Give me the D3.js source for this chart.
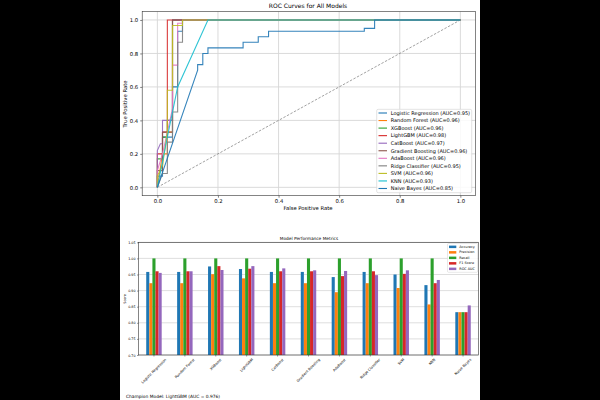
<!DOCTYPE html>
<html>
<head>
<meta charset="utf-8">
<script src="https://cdn.jsdelivr.net/npm/d3@7"></script>
<style>
  body { margin: 0; background: #000; }
  svg { display: block; }
  text { font-family: "DejaVu Sans", sans-serif; fill: #000; }
</style>
</head>
<body>
<svg id="canvas" width="600" height="400"></svg>
<script>
// ---- data ----
const models = ["Logistic Regression", "Random Forest", "XGBoost", "LightGBM", "CatBoost",
  "Gradient Boosting", "AdaBoost", "Ridge Classifier", "SVM", "KNN", "Naive Bayes"];
const aucLabels = ["0.95", "0.96", "0.96", "0.98", "0.97", "0.96", "0.96", "0.95", "0.96", "0.93", "0.85"];
const rocColors = ["#1f77b4", "#ff7f0e", "#2ca02c", "#d62728", "#9467bd", "#8c564b",
  "#e377c2", "#7f7f7f", "#bcbd22", "#17becf", "#1f77b4"];

// [fpr, tpr] points
const rocLR = [[0,0],[0,0.067],[0.017,0.067],[0.017,0.3],[0.05,0.3],[0.05,0.6],[0.067,0.6],[0.067,0.933],[0.083,0.933],[0.083,1],[1,1]];
const rocRF = [[0,0],[0.017,0.2],[0.033,0.2],[0.033,0.33],[0.05,0.33],[0.05,1],[1,1]];
const rocXGB = [[0,0],[0,0.17],[0.017,0.17],[0.017,0.3],[0.033,0.3],[0.033,0.4],[0.05,0.4],[0.05,1],[1,1]];
const rocLGBM = [[0,0],[0,0.2],[0.017,0.2],[0.017,0.33],[0.033,0.33],[0.033,1],[0.083,1],[1,1]];
const rocCat = [[0,0],[0,0.22],[0.01,0.26],[0.017,0.26],[0.017,0.4],[0.05,0.4],[0.05,1],[1,1]];
const rocGB = [[0,0],[0,0.1],[0.017,0.1],[0.017,0.33],[0.05,0.33],[0.05,1],[1,1]];
const rocAda = [[0,0],[0,0.1],[0.017,0.2],[0.033,0.33],[0.05,0.47],[0.05,0.52],[0.05,0.73],[0.067,0.73],[0.067,0.98],[0.083,0.98],[0.083,1],[1,1]];
const rocRidge = [[0,0],[0.017,0.083],[0.033,0.083],[0.033,0.27],[0.05,0.27],[0.05,0.45],[0.067,0.45],[0.067,0.867],[0.083,0.867],[0.083,1],[1,1]];
const rocSVM = [[0,0],[0,0.067],[0.017,0.13],[0.033,0.33],[0.033,0.58],[0.05,0.58],[0.05,0.967],[0.083,0.967],[0.083,1],[1,1]];
const rocKNN = [[0,0],[0.033,0.3],[0.067,0.6],[0.167,1],[1,1]];
const rocNB = [[0,0],[0.133,0.7],[0.133,0.733],[0.15,0.733],[0.15,0.8],[0.167,0.8],[0.167,0.833],[0.283,0.833],[0.283,0.867],[0.333,0.867],[0.333,0.9],[0.367,0.9],[0.367,0.933],[0.683,0.933],[0.683,0.95],[0.717,0.95],[0.717,1],[1,1]];
const rocCurves = [rocLR, rocRF, rocXGB, rocLGBM, rocCat, rocGB, rocAda, rocRidge, rocSVM, rocKNN, rocNB];

const rocTicks = [0, 0.2, 0.4, 0.6, 0.8, 1.0];

const metricNames = ["Accuracy", "Precision", "Recall", "F1 Score", "ROC AUC"];
const metricColors = ["#1f77b4", "#ff7f0e", "#2ca02c", "#d62728", "#9467bd"];
const accuracy = [0.958, 0.958, 0.975, 0.967, 0.958, 0.958, 0.942, 0.958, 0.950, 0.917, 0.833];
const precision = [0.923, 0.923, 0.951, 0.938, 0.923, 0.923, 0.895, 0.923, 0.908, 0.857, 0.833];
const recall = [1, 1, 1, 1, 1, 1, 1, 1, 1, 1, 0.833];
const f1Score = [0.960, 0.960, 0.976, 0.968, 0.960, 0.960, 0.945, 0.960, 0.952, 0.923, 0.833];
const rocAuc = [0.955, 0.960, 0.964, 0.976, 0.969, 0.963, 0.961, 0.948, 0.963, 0.933, 0.854];
const metricValues = [accuracy, precision, recall, f1Score, rocAuc];
const scoreTicks = [0.70, 0.75, 0.80, 0.85, 0.90, 0.95, 1.00, 1.05];

const footer = "Champion Model: LightGBM (AUC = 0.976)";

// ---- page ----
let canvas = d3.select("#canvas");
canvas.append("rect").attr("width", 600).attr("height", 400).attr("fill", "#000");
canvas.append("rect").attr("x", 120).attr("width", 360).attr("height", 400).attr("fill", "#fff");

// ---- ROC chart ----
const rx = d3.scaleLinear().domain([-0.05, 1.05]).range([142.2, 475.5]);
const ry = d3.scaleLinear().domain([-0.05, 1.05]).range([195.7, 11.6]);
let roc = canvas.append("g");

// grid
roc.selectAll(".gx").data(rocTicks).enter().append("line")
  .attr("x1", d => rx(d)).attr("x2", d => rx(d))
  .attr("y1", ry.range()[0]).attr("y2", ry.range()[1])
  .attr("stroke", "#d6d6d6").attr("stroke-width", 0.9);
roc.selectAll(".gy").data(rocTicks).enter().append("line")
  .attr("y1", d => ry(d)).attr("y2", d => ry(d))
  .attr("x1", rx.range()[0]).attr("x2", rx.range()[1])
  .attr("stroke", "#d6d6d6").attr("stroke-width", 0.9);

// diagonal
roc.append("line")
  .attr("x1", rx(0)).attr("y1", ry(0)).attr("x2", rx(1)).attr("y2", ry(1))
  .attr("stroke", "#7a7a7a").attr("stroke-width", 0.7).attr("stroke-dasharray", "2.5,1.5");

const line = d3.line().x(d => rx(d[0])).y(d => ry(d[1]));
roc.selectAll(".curve").data(rocCurves).enter().append("path")
  .attr("d", line)
  .attr("fill", "none")
  .attr("stroke", (d, i) => rocColors[i])
  .attr("stroke-width", 1.1)
  .attr("opacity", 0.9);

// frame + axes
roc.append("rect")
  .attr("x", rx.range()[0]).attr("y", ry.range()[1])
  .attr("width", rx.range()[1] - rx.range()[0]).attr("height", ry.range()[0] - ry.range()[1])
  .attr("fill", "none").attr("stroke", "#333").attr("stroke-width", 0.6);

let rxAxis = roc.append("g").attr("transform", `translate(0,${ry.range()[0]})`)
  .call(d3.axisBottom(rx).tickValues(rocTicks).tickFormat(d3.format(".1f")).tickSize(2).tickPadding(2));
let ryAxis = roc.append("g").attr("transform", `translate(${rx.range()[0]},0)`)
  .call(d3.axisLeft(ry).tickValues(rocTicks).tickFormat(d3.format(".1f")).tickSize(2).tickPadding(2));
[rxAxis, ryAxis].forEach(a => {
  a.select(".domain").remove();
  a.selectAll("line").attr("stroke", "#333").attr("stroke-width", 0.6);
  a.selectAll("text").attr("font-size", 5.3).attr("font-family", "DejaVu Sans").attr("fill", "#000");
});

roc.append("text").attr("x", 308).attr("y", 8).attr("text-anchor", "middle")
  .attr("font-size", 6).text("ROC Curves for All Models");
roc.append("text").attr("x", 308).attr("y", 210).attr("text-anchor", "middle")
  .attr("font-size", 5.3).text("False Positive Rate");
roc.append("text").attr("transform", "translate(127,104) rotate(-90)").attr("text-anchor", "middle")
  .attr("font-size", 5.3).text("True Positive Rate");

// legend
let leg = roc.append("g");
leg.append("rect").attr("x", 376.7).attr("y", 109.3).attr("width", 95).attr("height", 83.4)
  .attr("rx", 1.5).attr("fill", "#fff").attr("fill-opacity", 0.85)
  .attr("stroke", "#d0d0d0").attr("stroke-width", 0.6);
models.forEach((m, i) => {
  const y = 113 + i * 7.55;
  leg.append("line").attr("x1", 378.5).attr("x2", 387).attr("y1", y).attr("y2", y)
    .attr("stroke", rocColors[i]).attr("stroke-width", 1.1);
  leg.append("text").attr("x", 390.7).attr("y", y).attr("dy", "0.35em")
    .attr("font-size", 5).text(`${m} (AUC=${aucLabels[i]})`);
});

// ---- bar chart ----
const bx = d3.scaleLinear().domain([-0.5, models.length - 0.5]).range([138.5, 478.5]);
const by = d3.scaleLinear().domain([0.70, 1.05]).range([355, 242.3]);
let bars = canvas.append("g");

bars.selectAll(".grid").data(scoreTicks).enter().append("line")
  .attr("x1", bx.range()[0]).attr("x2", bx.range()[1])
  .attr("y1", d => by(d)).attr("y2", d => by(d))
  .attr("stroke", "#d6d6d6").attr("stroke-width", 0.8);

const barW = 0.1;
metricValues.forEach((vals, j) => {
  bars.selectAll(".bar" + j).data(vals).enter().append("rect")
    .attr("x", (d, i) => bx(i + (j - 2) * barW - barW / 2))
    .attr("width", bx(barW) - bx(0))
    .attr("y", d => by(d))
    .attr("height", d => by(0.70) - by(d))
    .attr("fill", metricColors[j]);
});

bars.append("rect")
  .attr("x", bx.range()[0]).attr("y", by.range()[1])
  .attr("width", bx.range()[1] - bx.range()[0]).attr("height", by.range()[0] - by.range()[1])
  .attr("fill", "none").attr("stroke", "#333").attr("stroke-width", 0.6);

let byAxis = bars.append("g").attr("transform", `translate(${bx.range()[0]},0)`)
  .call(d3.axisLeft(by).tickValues(scoreTicks).tickFormat(d3.format(".2f")).tickSize(1.5).tickPadding(1.5));
byAxis.select(".domain").remove();
byAxis.selectAll("line").attr("stroke", "#333").attr("stroke-width", 0.5);
byAxis.selectAll("text").attr("font-size", 3.3).attr("font-family", "DejaVu Sans").attr("fill", "#000");

// x tick marks and rotated labels
models.forEach((m, i) => {
  const x = bx(i);
  bars.append("line").attr("x1", x).attr("x2", x).attr("y1", 355).attr("y2", 356.5)
    .attr("stroke", "#333").attr("stroke-width", 0.5);
  const t = bars.append("text").attr("font-size", 3.5)
    .attr("text-anchor", "middle").attr("dominant-baseline", "central").text(m);
  const w = t.node().getComputedTextLength();
  const half = (w + 3.5) / (2 * Math.SQRT2);
  t.attr("transform", `translate(${x},${358 + half}) rotate(-45)`);
});

bars.append("text").attr("x", 309).attr("y", 239.5).attr("text-anchor", "middle")
  .attr("font-size", 4.3).text("Model Performance Metrics");
bars.append("text").attr("transform", "translate(125.5,299) rotate(-90)").attr("text-anchor", "middle")
  .attr("font-size", 3.4).text("Score");

// bar legend
let bleg = bars.append("g");
bleg.append("rect").attr("x", 447.5).attr("y", 243.5).attr("width", 30.2).attr("height", 28.8)
  .attr("rx", 1).attr("fill", "#fff").attr("fill-opacity", 0.85)
  .attr("stroke", "#d0d0d0").attr("stroke-width", 0.5);
metricNames.forEach((name, j) => {
  const y = 246.8 + j * 5.5;
  bleg.append("rect").attr("x", 449).attr("y", y - 1.2).attr("width", 7.3).attr("height", 2.5)
    .attr("fill", metricColors[j]);
  bleg.append("text").attr("x", 459.3).attr("y", y).attr("dy", "0.35em")
    .attr("font-size", 3.4).text(name);
});

// footer
canvas.append("text").attr("x", 126).attr("y", 397.5)
  .attr("font-family", "DejaVu Sans Mono").attr("font-size", 4.4).text(footer);
</script>
</body>
</html>
